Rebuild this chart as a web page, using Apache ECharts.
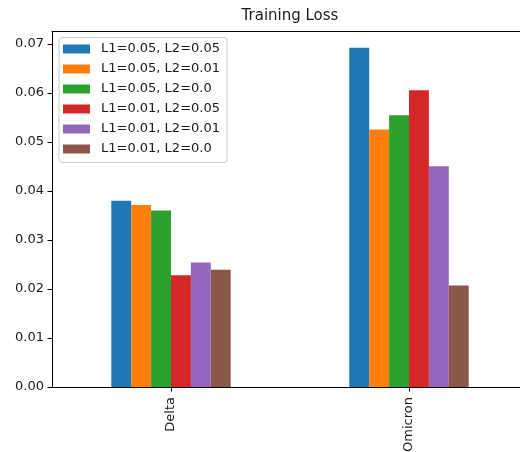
<!DOCTYPE html>
<html>
<head>
<meta charset="utf-8">
<script src="https://cdn.jsdelivr.net/npm/echarts@6/dist/echarts.min.js"></script>
<style>
  html, body { margin: 0; padding: 0; background: #fff; overflow: hidden; }
  /* the axes run a little past the right edge of the window */
  #chart { width: 528px; height: 452px; }
</style>
</head>
<body>
<div id="chart"></div>
<script>
// Variants of the Delta / Omicron model, one bar per regularisation setting
const categories = ['Delta', 'Omicron'];
const seriesNames = [
  'L1=0.05, L2=0.05',
  'L1=0.05, L2=0.01',
  'L1=0.05, L2=0.0',
  'L1=0.01, L2=0.05',
  'L1=0.01, L2=0.01',
  'L1=0.01, L2=0.0'
];
const lossL1_005_L2_005 = [0.0380, 0.0692];
const lossL1_005_L2_001 = [0.0371, 0.0525];
const lossL1_005_L2_000 = [0.0360, 0.0554];
const lossL1_001_L2_005 = [0.0228, 0.0605];
const lossL1_001_L2_001 = [0.0254, 0.0450];
const lossL1_001_L2_000 = [0.0239, 0.0207];
const yTicks = [0, 0.01, 0.02, 0.03, 0.04, 0.05, 0.06, 0.07];

const seriesValues = [
  lossL1_005_L2_005, lossL1_005_L2_001, lossL1_005_L2_000,
  lossL1_001_L2_005, lossL1_001_L2_001, lossL1_001_L2_000
];
const palette = ['#1f77b4', '#ff7f0e', '#2ca02c', '#d62728', '#9467bd', '#8c564b'];
const font = 'DejaVu Sans';
const ink = '#1a1a1a';

const chart = echarts.init(document.getElementById('chart'), null, { renderer: 'canvas' });
chart.setOption({
  animation: false,
  color: palette,
  title: {
    text: 'Training Loss',
    left: 290,
    top: 9,
    padding: 0,
    textAlign: 'center',
    textStyle: { fontFamily: font, fontSize: 15, fontWeight: 'normal', color: ink }
  },
  legend: {
    orient: 'vertical',
    left: 59,
    top: 37.5,
    padding: [5, 7, 7, 4],
    itemWidth: 27,
    itemHeight: 9,
    itemGap: 7,
    icon: 'rect',
    backgroundColor: 'rgba(255,255,255,0.8)',
    borderColor: '#cccccc',
    borderWidth: 1,
    borderRadius: 3,
    textStyle: { fontFamily: font, fontSize: 13, lineHeight: 13, color: ink, padding: [0, 0, 0, 6] },
    data: seriesNames
  },
  grid: {
    left: 52,
    top: 31.5,
    right: 0,
    bottom: 65,
    outerBoundsMode: 'none',
    containLabel: false,
    show: false
  },
  xAxis: [
    {
      type: 'category',
      data: categories,
      axisLine: { lineStyle: { color: '#000', width: 1 } },
      axisTick: { show: true, alignWithLabel: true, length: 4.5, lineStyle: { color: '#000' } },
      axisLabel: { rotate: 90, margin: 10, fontFamily: font, fontSize: 13, color: ink },
      splitLine: { show: false }
    },
    {
      // top spine of the frame
      type: 'category',
      position: 'top',
      data: categories,
      axisLine: { show: true, lineStyle: { color: '#000', width: 1 } },
      axisTick: { show: false },
      axisLabel: { show: false },
      splitLine: { show: false }
    }
  ],
  yAxis: {
    type: 'value',
    min: 0,
    max: 0.0725,
    interval: 0.01,
    axisLine: { show: true, lineStyle: { color: '#000', width: 1 } },
    axisTick: { show: true, length: 4.5, lineStyle: { color: '#000' } },
    axisLabel: {
      margin: 8,
      fontFamily: font,
      fontSize: 13,
      color: ink,
      showMaxLabel: false,
      formatter: v => {
        const t = yTicks.find(k => Math.abs(k - v) < 1e-9);
        return t === undefined ? '' : t.toFixed(2);
      }
    },
    splitLine: { show: false }
  },
  series: seriesNames.map((name, i) => ({
    name,
    type: 'bar',
    data: seriesValues[i],
    barWidth: 19.9,
    barGap: '0%',
    itemStyle: { color: palette[i] }
  }))
});
</script>
</body>
</html>
